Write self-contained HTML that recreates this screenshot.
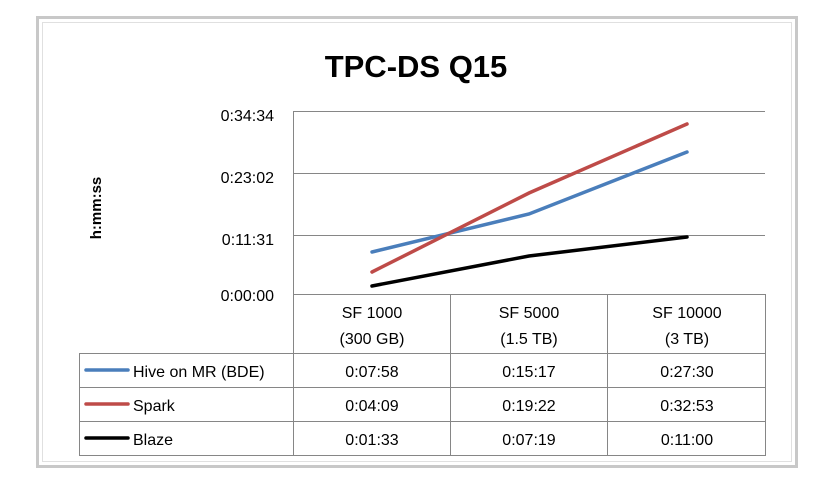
<!DOCTYPE html>
<html><head><style>
body{margin:0;background:#fff;}
svg{display:block;font-family:"Liberation Sans",Calibri,sans-serif;}
</style></head><body>
<svg width="817" height="494" viewBox="0 0 817 494">
<rect x="0" y="0" width="817" height="494" fill="#fff"/>
<rect x="37.5" y="17.5" width="759" height="449" fill="#fff" stroke="#c8c8c8" stroke-width="3"/>
<rect x="42.5" y="22.5" width="749" height="439" fill="#fff" stroke="#e0e0e0" stroke-width="1"/>
<text x="416" y="77" font-size="31" font-weight="bold" text-anchor="middle" fill="#000">TPC-DS Q15</text>
<text transform="translate(101,208) rotate(-90)" font-size="15" font-weight="bold" text-anchor="middle">h:mm:ss</text>
<g stroke="#868686" stroke-width="1" fill="none">
<line x1="294" y1="111.5" x2="765" y2="111.5"/>
<line x1="294" y1="173.5" x2="765" y2="173.5"/>
<line x1="294" y1="235.5" x2="765" y2="235.5"/>
<line x1="294" y1="294.5" x2="765" y2="294.5"/>
<line x1="293.5" y1="111" x2="293.5" y2="456"/>
<line x1="450.5" y1="294" x2="450.5" y2="456"/>
<line x1="607.5" y1="294" x2="607.5" y2="456"/>
<line x1="765.5" y1="294" x2="765.5" y2="456"/>
<line x1="79.5" y1="353.5" x2="765" y2="353.5"/>
<line x1="79.5" y1="387.5" x2="765" y2="387.5"/>
<line x1="79.5" y1="421.5" x2="765" y2="421.5"/>
<line x1="79.5" y1="455.5" x2="765" y2="455.5"/>
<line x1="79.5" y1="353" x2="79.5" y2="456"/>
</g>
<g font-size="16" text-anchor="end" fill="#000">
<text x="274" y="121">0:34:34</text>
<text x="274" y="183">0:23:02</text>
<text x="274" y="245">0:11:31</text>
<text x="274" y="301">0:00:00</text>
</g>
<g font-size="16" text-anchor="middle" fill="#000">
<text x="372" y="318">SF 1000</text><text x="372" y="344">(300 GB)</text>
<text x="529" y="318">SF 5000</text><text x="529" y="344">(1.5 TB)</text>
<text x="687" y="318">SF 10000</text><text x="687" y="344">(3 TB)</text>
<text x="372" y="377">0:07:58</text><text x="529" y="377">0:15:17</text><text x="687" y="377">0:27:30</text>
<text x="372" y="411">0:04:09</text><text x="529" y="411">0:19:22</text><text x="687" y="411">0:32:53</text>
<text x="372" y="445">0:01:33</text><text x="529" y="445">0:07:19</text><text x="687" y="445">0:11:00</text>
</g>
<g font-size="16" fill="#000">
<text x="133" y="377">Hive on MR (BDE)</text>
<text x="133" y="411">Spark</text>
<text x="133" y="445">Blaze</text>
</g>
<g stroke-width="3.5" fill="none" stroke-linecap="round">
<line x1="86" y1="370" x2="128" y2="370" stroke="#4a7ebb"/>
<line x1="86" y1="404" x2="128" y2="404" stroke="#be4b48"/>
<line x1="86" y1="438" x2="128" y2="438" stroke="#000"/>
<polyline points="372,252 529,214 687,152" stroke="#4a7ebb"/>
<polyline points="372,272 529,193 687,124" stroke="#be4b48"/>
<polyline points="372,286 529,256 687,237" stroke="#000"/>
</g>
</svg>
</body></html>
